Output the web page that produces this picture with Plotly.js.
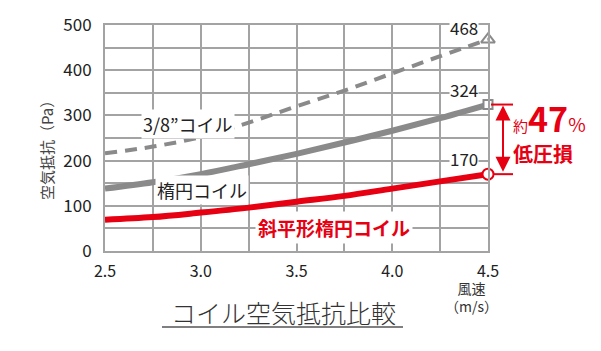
<!DOCTYPE html>
<html>
<head>
<meta charset="utf-8">
<script src="https://cdn.plot.ly/plotly-3.0.1.min.js"></script>
<style>
html,body{margin:0;padding:0;background:#fff;}
#chart{width:601px;height:351px;}
</style>
</head>
<body>
<div id="chart"></div>
<script>
// ---- data ----
const windSpeed = [2.5, 2.75, 3.0, 3.25, 3.5, 3.75, 4.0, 4.25, 4.5];
const coil38 = [216, 231, 252, 284, 320, 355, 393, 431, 468];
const ellipticCoil = [138, 152, 170, 192, 215, 240, 266, 294, 324];
const flatEllipticCoil = [69, 75, 85, 96, 109, 122, 138, 154, 170];
const seriesNames = ['3/8\u201dコイル', '楕円コイル', '斜平形楕円コイル'];
const reductionPercent = 47;
const xTickVals = [2.5, 2.75, 3.0, 3.25, 3.5, 3.75, 4.0, 4.25, 4.5];
const xTickText = ['2.5', '', '3.0', '', '3.5', '', '4.0', '', '4.5'];
const yTickVals = [0, 50, 100, 150, 200, 250, 300, 350, 400, 450, 500];
const yTickText = ['0', '', '100', '', '200', '', '300', '', '400', '', '500'];
const chartTitle = 'コイル空気抵抗比較';
const yTitle = '空気抵抗（Pa）';
const xTitle = '風速<br>（m/s）';
const reductionText = '低圧損';

// ---- layout constants ----
const L = 105, T = 25, W = 383, H = 226;
const xMin = 2.5, xMax = 4.5, yMin = 0, yMax = 500;
const FONT = '"Noto Sans CJK JP", "Noto Sans", sans-serif';
const GRAY = '#8a8a8a', GRID = '#a3a3a3', RED = '#e60012', TXT = '#222';
const pxX = x => L + (x - xMin) / (xMax - xMin) * W;
const pxY = y => T + (1 - (y - yMin) / (yMax - yMin)) * H;
const paperX = px => (px - L) / W;
const paperY = py => 1 - (py - T) / H;

const last = a => a[a.length - 1];
const n = windSpeed.length - 1;

const traces = [
  {x: windSpeed, y: coil38, mode: 'lines', line: {color: GRAY, width: 4, dash: '12px,8px', shape: 'spline', smoothing: 1}, hoverinfo: 'skip'},
  {x: windSpeed, y: ellipticCoil, mode: 'lines', line: {color: GRAY, width: 6, shape: 'spline', smoothing: 1}, hoverinfo: 'skip'},
  {x: windSpeed, y: flatEllipticCoil, mode: 'lines', line: {color: RED, width: 6, shape: 'spline', smoothing: 1}, hoverinfo: 'skip'},
  {x: [windSpeed[n]], y: [coil38[n]], mode: 'markers', cliponaxis: false,
   marker: {symbol: 'triangle-up-open', size: 12, color: GRAY, line: {width: 2, color: GRAY}}},
  {x: [windSpeed[n]], y: [ellipticCoil[n]], mode: 'markers', cliponaxis: false,
   marker: {symbol: 'square', size: 9, color: '#fff', line: {width: 2, color: GRAY}}},
  {x: [windSpeed[n]], y: [flatEllipticCoil[n]], mode: 'markers', cliponaxis: false,
   marker: {symbol: 'circle', size: 11, color: '#fff', line: {width: 2, color: RED}}}
];

const arrX = pxX(last(windSpeed)) + 15;
const yTopPx = pxY(last(ellipticCoil));
const yBotPx = pxY(last(flatEllipticCoil));

const annotations = [
  // line labels
  {x: 2.935, y: 281, xref: 'x', yref: 'y', text: seriesNames[0], showarrow: false, bgcolor: '#fff', borderpad: 1,
   font: {family: FONT, size: 18, color: TXT}},
  {x: 3.008, y: 135, xref: 'x', yref: 'y', text: seriesNames[1], showarrow: false, bgcolor: '#fff', borderpad: 1,
   font: {family: FONT, size: 18, color: TXT}},
  {x: 3.695, y: 53, xref: 'x', yref: 'y', text: '<b>' + seriesNames[2] + '</b>', showarrow: false, bgcolor: '#fff', borderpad: 2,
   font: {family: FONT, size: 19, color: RED}},
  // end value labels
  {x: last(windSpeed), y: last(coil38), xref: 'x', yref: 'y', text: String(last(coil38)), showarrow: false,
   xanchor: 'right', xshift: -9, yshift: 12, bgcolor: '#fff', borderpad: 0, font: {family: FONT, size: 17, color: TXT}},
  {x: last(windSpeed), y: last(ellipticCoil), xref: 'x', yref: 'y', text: String(last(ellipticCoil)), showarrow: false,
   xanchor: 'right', xshift: -9, yshift: 15, bgcolor: '#fff', borderpad: 0, font: {family: FONT, size: 17, color: TXT}},
  {x: last(windSpeed), y: last(flatEllipticCoil), xref: 'x', yref: 'y', text: String(last(flatEllipticCoil)), showarrow: false,
   xanchor: 'right', xshift: -9, yshift: 16, bgcolor: '#fff', borderpad: 0, font: {family: FONT, size: 17, color: TXT}},
  // double arrow
  {x: paperX(arrX), y: paperY(yTopPx + 1), xref: 'paper', yref: 'paper', ax: 0, ay: (yBotPx - yTopPx) - 2,
   axref: 'pixel', ayref: 'pixel', showarrow: true, arrowside: 'end+start', arrowhead: 2, arrowsize: 1.5,
   arrowwidth: 2, arrowcolor: RED, text: ''},
  // reduction text
  {x: paperX(511), y: paperY(137), xref: 'paper', yref: 'paper', xanchor: 'left', yanchor: 'bottom', showarrow: false,
   text: '<span style="font-size:15px">約</span><b>' + reductionPercent + '</b><span style="font-size:19px">%</span>',
   font: {family: FONT, size: 34, color: RED}, yshift: -7},
  {x: paperX(511), y: paperY(153), xref: 'paper', yref: 'paper', xanchor: 'left', yanchor: 'middle', showarrow: false,
   text: '<b>' + reductionText + '</b>', font: {family: FONT, size: 20, color: RED}},
  // y title
  {x: paperX(46), y: paperY(147), xref: 'paper', yref: 'paper', xanchor: 'center', yanchor: 'middle', textangle: -90, showarrow: false,
   text: yTitle, font: {family: FONT, size: 15, color: '#444'}},
  // x title
  {x: paperX(471), y: paperY(297), xref: 'paper', yref: 'paper', xanchor: 'center', yanchor: 'middle', showarrow: false,
   text: xTitle, font: {family: FONT, size: 14, color: '#333'}, align: 'center'},
  // chart title
  {x: paperX(283), y: paperY(312), xref: 'paper', yref: 'paper', xanchor: 'center', yanchor: 'middle', showarrow: false,
   text: chartTitle, font: {family: FONT, size: 25, color: '#333', weight: 300}}
];

const shapes = [
  // arrow caps
  {type: 'line', xref: 'paper', yref: 'paper', x0: paperX(pxX(last(windSpeed)) + 3), x1: paperX(513),
   y0: paperY(yTopPx), y1: paperY(yTopPx), line: {color: RED, width: 2}},
  {type: 'line', xref: 'paper', yref: 'paper', x0: paperX(pxX(last(windSpeed)) + 5), x1: paperX(513),
   y0: paperY(yBotPx), y1: paperY(yBotPx), line: {color: RED, width: 2}},
  // title underline
  {type: 'line', xref: 'paper', yref: 'paper', x0: paperX(162), x1: paperX(403),
   y0: paperY(327), y1: paperY(327), line: {color: '#555', width: 1.5}}
];

const layout = {
  width: 601, height: 351,
  margin: {l: L, r: 601 - L - W, t: T, b: 351 - T - H, pad: 0},
  paper_bgcolor: '#fff', plot_bgcolor: '#fff',
  showlegend: false,
  font: {family: FONT, color: TXT},
  xaxis: {range: [xMin, xMax], tickvals: xTickVals, ticktext: xTickText, showgrid: true,
    gridcolor: GRID, gridwidth: 2, showline: true, mirror: true, linecolor: GRID, linewidth: 2,
    ticks: '', zeroline: false, ticklabelstandoff: 5, tickfont: {family: FONT, size: 16, color: TXT}, fixedrange: true},
  yaxis: {range: [yMin, yMax], tickvals: yTickVals, ticktext: yTickText, showgrid: true,
    gridcolor: GRID, gridwidth: 2, showline: true, mirror: true, linecolor: GRID, linewidth: 2,
    ticks: '', zeroline: false, ticklabelstandoff: 8, tickfont: {family: FONT, size: 17, color: TXT}, fixedrange: true},
  annotations: annotations,
  shapes: shapes
};

Plotly.newPlot('chart', traces, layout, {displayModeBar: false, staticPlot: true});
</script>
</body>
</html>
